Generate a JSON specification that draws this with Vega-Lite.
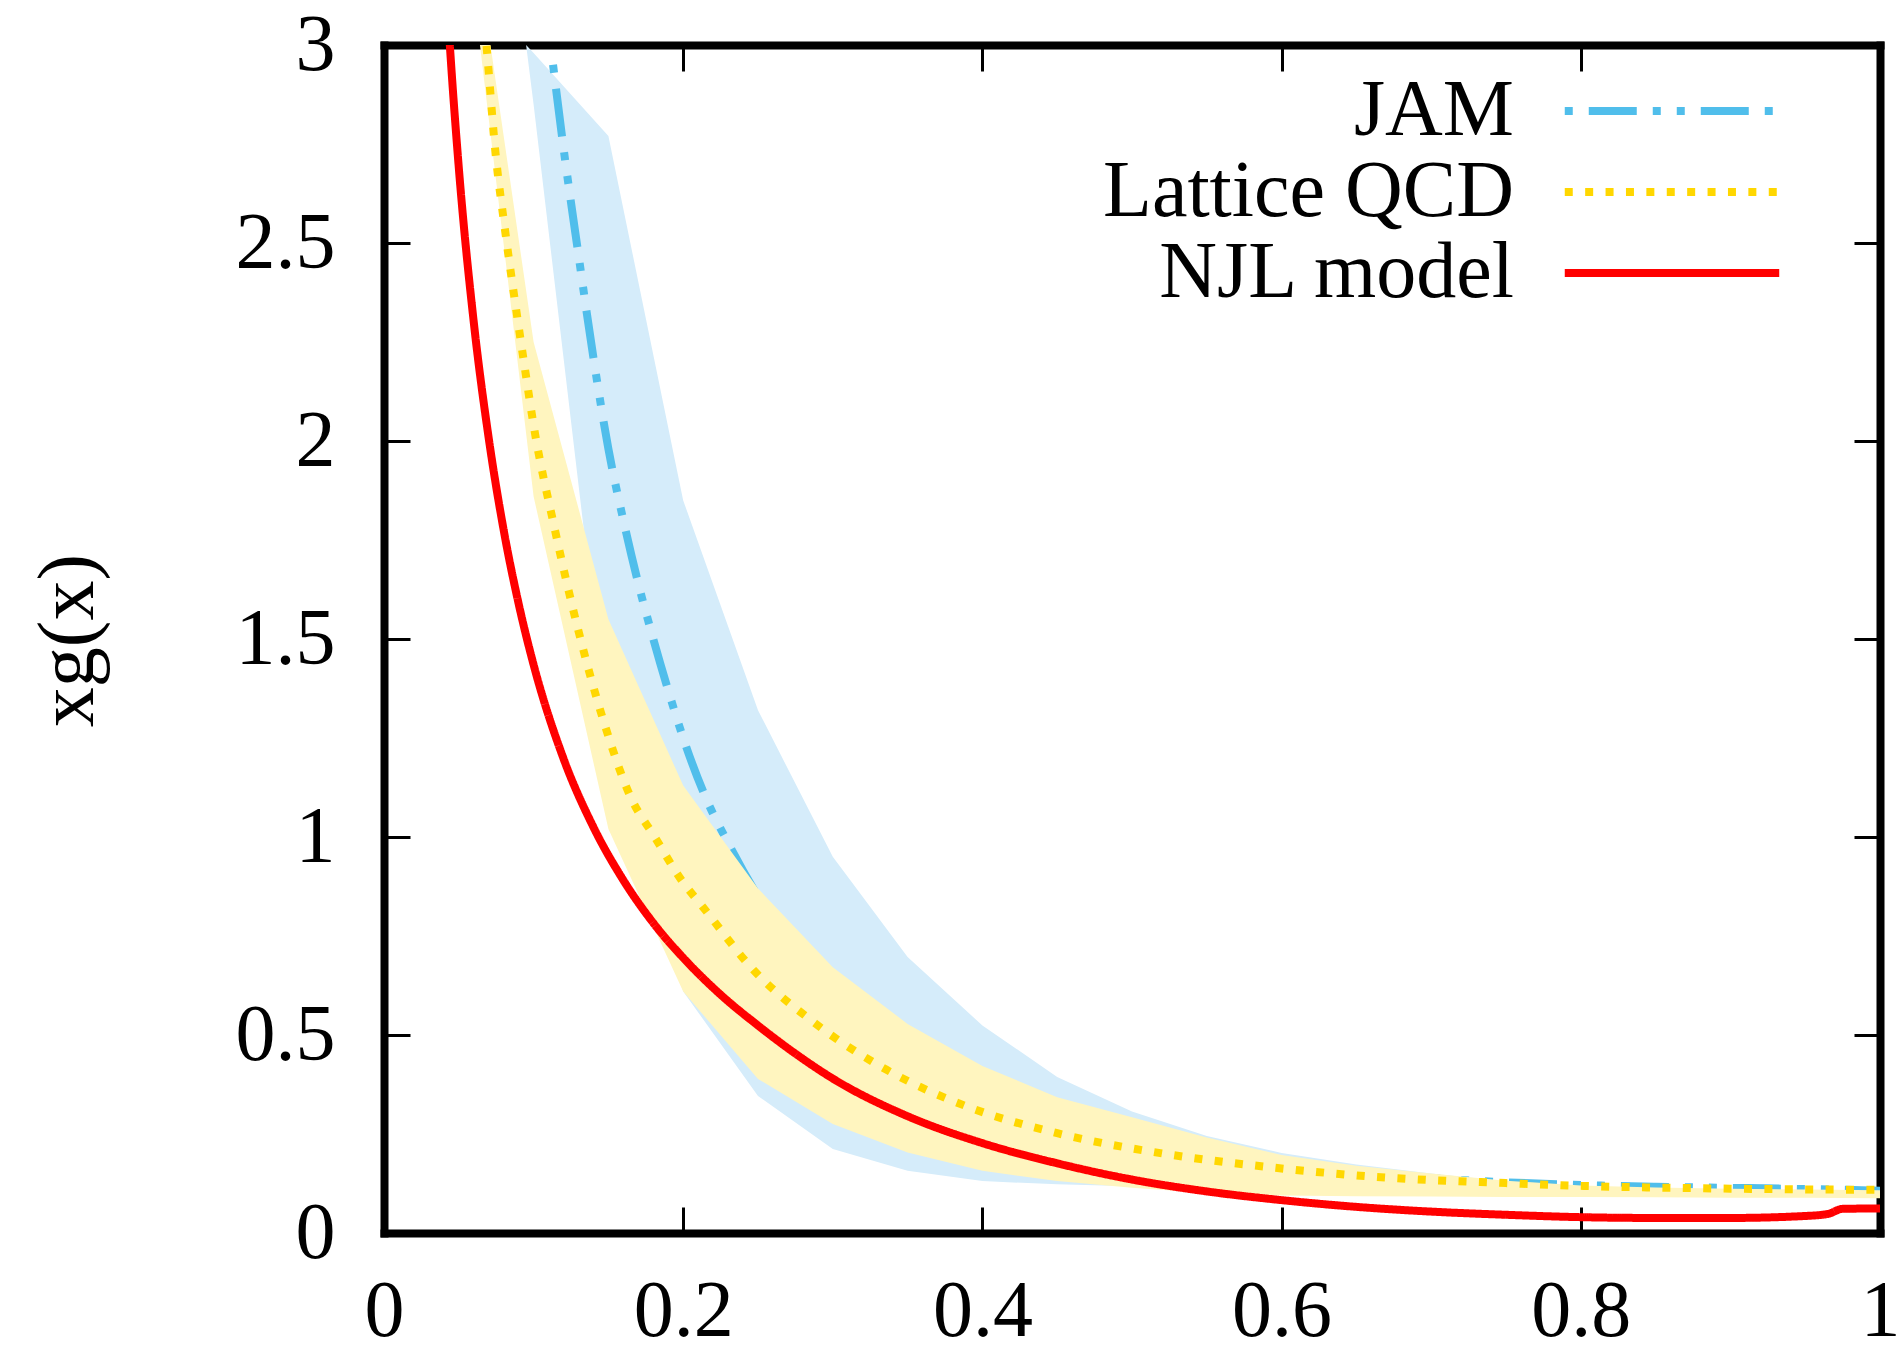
{
  "$schema": "https://vega.github.io/schema/vega-lite/v6.json",
  "width": 1496,
  "height": 1188,
  "autosize": "none",
  "padding": {"left": 384, "top": 45, "right": 20, "bottom": 119},
  "background": "white",
  "config": {
    "view": {"stroke": null},
    "axis": {
      "labelFont": "Liberation Serif",
      "labelFontSize": 80,
      "labelColor": "black",
      "titleFont": "Liberation Serif",
      "titleFontSize": 80,
      "titleFontWeight": "normal",
      "titleColor": "black",
      "grid": false,
      "domain": true,
      "domainColor": "black",
      "domainWidth": 8,
      "domainCap": "square",
      "tickColor": "black",
      "tickWidth": 3,
      "tickSize": -26,
      "labelFlush": false,
      "labelOverlap": false,
      "labelBound": false,
      "zindex": 1
    },
    "legend": {
      "orient": "none",
      "legendX": 1248,
      "legendY": 26,
      "direction": "vertical",
      "padding": 0,
      "labelFont": "Liberation Serif",
      "labelFontSize": 80,
      "labelColor": "black",
      "labelAlign": "right",
      "labelBaseline": "middle",
      "labelOffset": -198,
      "labelLimit": 800,
      "symbolType": "M-5,0H5",
      "symbolSize": 1840,
      "symbolStrokeWidth": 8,
      "rowPadding": 1
    }
  },
  "datasets": {
    "jam_band": [
      {"x": 0.095, "lo": 3.0, "hi": 3.0},
      {"x": 0.10, "lo": 2.85, "hi": 2.98},
      {"x": 0.15, "lo": 1.25, "hi": 2.77},
      {"x": 0.20, "lo": 0.61, "hi": 1.85},
      {"x": 0.25, "lo": 0.346, "hi": 1.32},
      {"x": 0.30, "lo": 0.212, "hi": 0.95},
      {"x": 0.35, "lo": 0.157, "hi": 0.697},
      {"x": 0.40, "lo": 0.131, "hi": 0.524},
      {"x": 0.45, "lo": 0.123, "hi": 0.394},
      {"x": 0.50, "lo": 0.118, "hi": 0.307},
      {"x": 0.55, "lo": 0.113, "hi": 0.245},
      {"x": 0.60, "lo": 0.110, "hi": 0.202},
      {"x": 0.65, "lo": 0.107, "hi": 0.173},
      {"x": 0.70, "lo": 0.105, "hi": 0.150},
      {"x": 0.75, "lo": 0.103, "hi": 0.130},
      {"x": 0.80, "lo": 0.101, "hi": 0.118},
      {"x": 0.85, "lo": 0.100, "hi": 0.113},
      {"x": 0.90, "lo": 0.099, "hi": 0.110},
      {"x": 0.95, "lo": 0.098, "hi": 0.108},
      {"x": 1.00, "lo": 0.097, "hi": 0.106}
    ],
    "lat_band": [
      {"x": 0.05, "lo": 3.45, "hi": 3.55},
      {"x": 0.10, "lo": 1.86, "hi": 2.25},
      {"x": 0.15, "lo": 1.02, "hi": 1.55},
      {"x": 0.20, "lo": 0.61, "hi": 1.13},
      {"x": 0.25, "lo": 0.389, "hi": 0.87},
      {"x": 0.30, "lo": 0.275, "hi": 0.671},
      {"x": 0.35, "lo": 0.203, "hi": 0.528},
      {"x": 0.40, "lo": 0.157, "hi": 0.422},
      {"x": 0.45, "lo": 0.131, "hi": 0.343},
      {"x": 0.50, "lo": 0.114, "hi": 0.292},
      {"x": 0.55, "lo": 0.101, "hi": 0.241},
      {"x": 0.60, "lo": 0.095, "hi": 0.197},
      {"x": 0.65, "lo": 0.093, "hi": 0.170},
      {"x": 0.70, "lo": 0.092, "hi": 0.150},
      {"x": 0.75, "lo": 0.091, "hi": 0.132},
      {"x": 0.80, "lo": 0.091, "hi": 0.120},
      {"x": 0.85, "lo": 0.090, "hi": 0.115},
      {"x": 0.90, "lo": 0.089, "hi": 0.112},
      {"x": 0.95, "lo": 0.089, "hi": 0.110},
      {"x": 1.00, "lo": 0.088, "hi": 0.108}
    ],
    "jam": [
      {"series": "JAM", "x": 0.113, "y": 2.95},
      {"series": "JAM", "x": 0.12, "y": 2.74},
      {"series": "JAM", "x": 0.13, "y": 2.47},
      {"series": "JAM", "x": 0.14, "y": 2.21},
      {"series": "JAM", "x": 0.15, "y": 1.98},
      {"series": "JAM", "x": 0.16, "y": 1.80},
      {"series": "JAM", "x": 0.17, "y": 1.64},
      {"series": "JAM", "x": 0.18, "y": 1.50},
      {"series": "JAM", "x": 0.19, "y": 1.37},
      {"series": "JAM", "x": 0.20, "y": 1.25},
      {"series": "JAM", "x": 0.215, "y": 1.10},
      {"series": "JAM", "x": 0.23, "y": 0.985},
      {"series": "JAM", "x": 0.25, "y": 0.85},
      {"series": "JAM", "x": 0.30, "y": 0.60},
      {"series": "JAM", "x": 0.35, "y": 0.45},
      {"series": "JAM", "x": 0.40, "y": 0.35},
      {"series": "JAM", "x": 0.45, "y": 0.28},
      {"series": "JAM", "x": 0.50, "y": 0.23},
      {"series": "JAM", "x": 0.55, "y": 0.195},
      {"series": "JAM", "x": 0.60, "y": 0.17},
      {"series": "JAM", "x": 0.65, "y": 0.152},
      {"series": "JAM", "x": 0.70, "y": 0.138},
      {"series": "JAM", "x": 0.75, "y": 0.128},
      {"series": "JAM", "x": 0.80, "y": 0.121},
      {"series": "JAM", "x": 0.85, "y": 0.117},
      {"series": "JAM", "x": 0.90, "y": 0.114},
      {"series": "JAM", "x": 0.95, "y": 0.111},
      {"series": "JAM", "x": 1.00, "y": 0.107}
    ],
    "lat": [
      {"series": "Lattice QCD", "x": 0.066, "y": 3.1},
      {"series": "Lattice QCD", "x": 0.0687, "y": 2.99},
      {"series": "Lattice QCD", "x": 0.0742, "y": 2.74},
      {"series": "Lattice QCD", "x": 0.081, "y": 2.53},
      {"series": "Lattice QCD", "x": 0.0888, "y": 2.32},
      {"series": "Lattice QCD", "x": 0.0943, "y": 2.18},
      {"series": "Lattice QCD", "x": 0.10, "y": 2.04},
      {"series": "Lattice QCD", "x": 0.114, "y": 1.78},
      {"series": "Lattice QCD", "x": 0.13, "y": 1.52},
      {"series": "Lattice QCD", "x": 0.147, "y": 1.29},
      {"series": "Lattice QCD", "x": 0.165, "y": 1.10},
      {"series": "Lattice QCD", "x": 0.181, "y": 1.00},
      {"series": "Lattice QCD", "x": 0.20, "y": 0.885},
      {"series": "Lattice QCD", "x": 0.213, "y": 0.824},
      {"series": "Lattice QCD", "x": 0.247, "y": 0.664},
      {"series": "Lattice QCD", "x": 0.288, "y": 0.53},
      {"series": "Lattice QCD", "x": 0.336, "y": 0.412},
      {"series": "Lattice QCD", "x": 0.39, "y": 0.319},
      {"series": "Lattice QCD", "x": 0.45, "y": 0.252},
      {"series": "Lattice QCD", "x": 0.52, "y": 0.201},
      {"series": "Lattice QCD", "x": 0.59, "y": 0.167},
      {"series": "Lattice QCD", "x": 0.67, "y": 0.140},
      {"series": "Lattice QCD", "x": 0.75, "y": 0.126},
      {"series": "Lattice QCD", "x": 0.80, "y": 0.119},
      {"series": "Lattice QCD", "x": 0.90, "y": 0.112},
      {"series": "Lattice QCD", "x": 1.00, "y": 0.109}
    ],
    "njl": [
      {"series": "NJL model", "x": 0.040, "y": 3.25},
      {"series": "NJL model", "x": 0.044, "y": 3.0},
      {"series": "NJL model", "x": 0.05, "y": 2.69},
      {"series": "NJL model", "x": 0.06, "y": 2.30},
      {"series": "NJL model", "x": 0.07, "y": 2.007},
      {"series": "NJL model", "x": 0.08, "y": 1.775},
      {"series": "NJL model", "x": 0.09, "y": 1.589},
      {"series": "NJL model", "x": 0.10, "y": 1.435},
      {"series": "NJL model", "x": 0.12, "y": 1.198},
      {"series": "NJL model", "x": 0.14, "y": 1.025},
      {"series": "NJL model", "x": 0.16, "y": 0.891},
      {"series": "NJL model", "x": 0.18, "y": 0.783},
      {"series": "NJL model", "x": 0.20, "y": 0.695},
      {"series": "NJL model", "x": 0.225, "y": 0.602},
      {"series": "NJL model", "x": 0.25, "y": 0.524},
      {"series": "NJL model", "x": 0.275, "y": 0.453},
      {"series": "NJL model", "x": 0.30, "y": 0.39},
      {"series": "NJL model", "x": 0.35, "y": 0.295},
      {"series": "NJL model", "x": 0.40, "y": 0.227},
      {"series": "NJL model", "x": 0.45, "y": 0.176},
      {"series": "NJL model", "x": 0.50, "y": 0.135},
      {"series": "NJL model", "x": 0.55, "y": 0.105},
      {"series": "NJL model", "x": 0.60, "y": 0.083},
      {"series": "NJL model", "x": 0.65, "y": 0.066},
      {"series": "NJL model", "x": 0.70, "y": 0.054},
      {"series": "NJL model", "x": 0.75, "y": 0.046},
      {"series": "NJL model", "x": 0.80, "y": 0.040},
      {"series": "NJL model", "x": 0.85, "y": 0.038},
      {"series": "NJL model", "x": 0.90, "y": 0.038},
      {"series": "NJL model", "x": 0.95, "y": 0.043},
      {"series": "NJL model", "x": 0.965, "y": 0.048},
      {"series": "NJL model", "x": 0.975, "y": 0.061},
      {"series": "NJL model", "x": 1.0, "y": 0.062}
    ]
  },
  "resolve": {"axis": {"x": "independent", "y": "independent"}},
  "layer": [
    {
      "data": {"name": "jam_band"},
      "mark": {"type": "area", "color": "#D5ECFA", "clip": true},
      "encoding": {
        "x": {"field": "x", "type": "quantitative", "scale": {"domain": [0, 1], "nice": false, "zero": false},
          "axis": {"orient": "bottom", "values": [0, 0.2, 0.4, 0.6, 0.8, 1], "format": "~g", "labelPadding": 65, "title": null}},
        "y": {"field": "hi", "type": "quantitative", "scale": {"domain": [0, 3], "nice": false},
          "axis": {"orient": "left", "values": [0, 0.5, 1, 1.5, 2, 2.5, 3], "format": "~g", "labelPadding": 75,
            "title": "xg(x)", "titleX": -292, "titleY": 595, "titleAngle": -90, "titleAlign": "center", "titleBaseline": "alphabetic"}},
        "y2": {"field": "lo"}
      }
    },
    {
      "data": {"name": "jam"},
      "mark": {"type": "line", "strokeWidth": 8, "clip": true, "interpolate": "monotone", "strokeCap": "butt"},
      "encoding": {
        "x": {"field": "x", "type": "quantitative", "scale": {"domain": [0, 1], "nice": false, "zero": false},
          "axis": {"orient": "top", "values": [0, 0.2, 0.4, 0.6, 0.8, 1], "labels": false, "title": null}},
        "y": {"field": "y", "type": "quantitative", "scale": {"domain": [0, 3], "nice": false},
          "axis": {"orient": "right", "values": [0, 0.5, 1, 1.5, 2, 2.5, 3], "labels": false, "title": null}},
        "color": {"field": "series", "type": "nominal",
          "scale": {"domain": ["JAM", "Lattice QCD", "NJL model"], "range": ["#50BEEB", "#FFD700", "#FF0000"]},
          "legend": {"title": null}},
        "strokeDash": {"field": "series", "type": "nominal",
          "scale": {"domain": ["JAM", "Lattice QCD", "NJL model"], "range": [[8, 16, 48, 16, 8, 16], [8, 12.4], [1, 0]]},
          "legend": {"title": null}}
      }
    },
    {
      "data": {"name": "lat_band"},
      "mark": {"type": "area", "color": "#FFF5BF", "clip": true},
      "encoding": {
        "x": {"field": "x", "type": "quantitative", "axis": null},
        "y": {"field": "hi", "type": "quantitative", "axis": null},
        "y2": {"field": "lo"}
      }
    },
    {
      "data": {"name": "lat"},
      "mark": {"type": "line", "strokeWidth": 8, "clip": true, "interpolate": "monotone", "strokeCap": "butt"},
      "encoding": {
        "x": {"field": "x", "type": "quantitative", "axis": null},
        "y": {"field": "y", "type": "quantitative", "axis": null},
        "color": {"field": "series", "type": "nominal", "legend": {"title": null}},
        "strokeDash": {"field": "series", "type": "nominal", "legend": {"title": null}}
      }
    },
    {
      "data": {"name": "njl"},
      "mark": {"type": "line", "strokeWidth": 8, "clip": true, "interpolate": "monotone", "strokeCap": "butt"},
      "encoding": {
        "x": {"field": "x", "type": "quantitative", "axis": null},
        "y": {"field": "y", "type": "quantitative", "axis": null},
        "color": {"field": "series", "type": "nominal", "legend": {"title": null}},
        "strokeDash": {"field": "series", "type": "nominal", "legend": {"title": null}}
      }
    }
  ]
}
